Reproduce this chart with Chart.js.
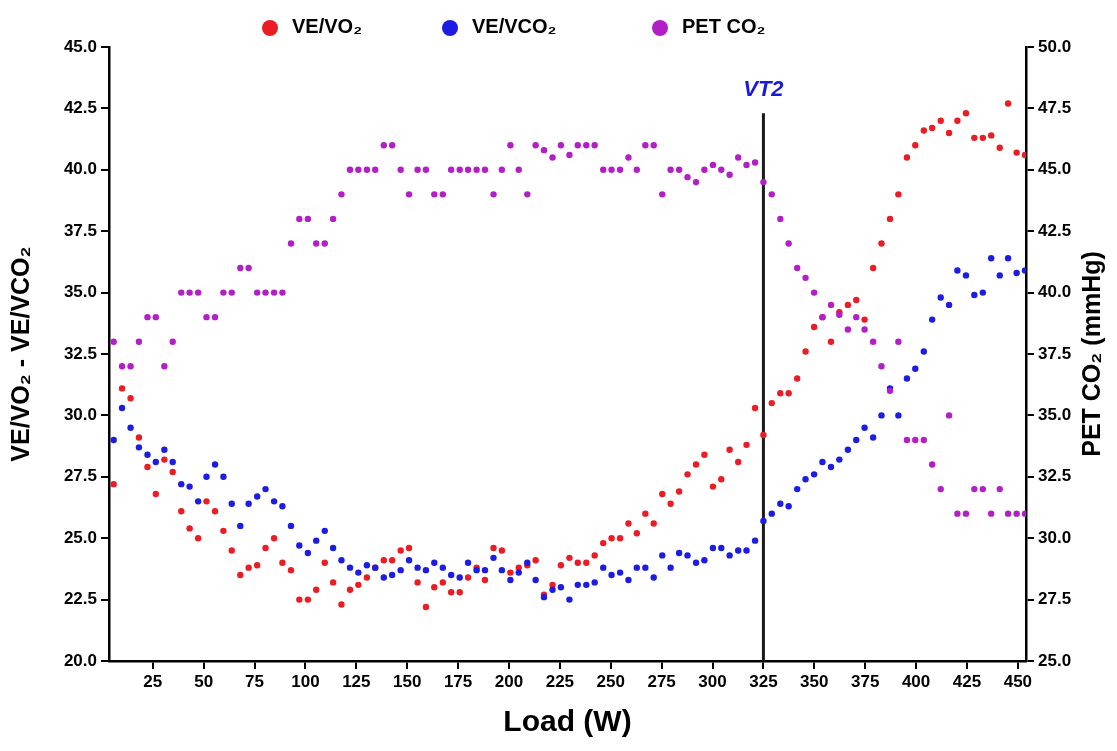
<!DOCTYPE html>
<html>
<head>
<meta charset="utf-8">
<script src="https://cdn.jsdelivr.net/npm/chart.js@4.4.1/dist/chart.umd.min.js"></script>
<style>
  html, body { margin: 0; padding: 0; background: #fff; }
  #wrap { width: 1117px; height: 751px; }
</style>
</head>
<body>
<div id="wrap"><canvas id="chart" width="1117" height="751"></canvas></div>
<script>
// ═══════════════════════════════════════════════
//  DATA
// ═══════════════════════════════════════════════
const load = [
  5.8, 9.9, 14.1, 18.2, 22.4, 26.5, 30.7, 34.8, 39.0, 43.1,
  47.3, 51.4, 55.6, 59.7, 63.8, 68.0, 72.1, 76.3, 80.4, 84.6,
  88.7, 92.9, 97.0, 101.2, 105.3, 109.5, 113.6, 117.7, 121.9, 126.0,
  130.2, 134.3, 138.5, 142.6, 146.8, 150.9, 155.1, 159.2, 163.3, 167.5,
  171.6, 175.8, 179.9, 184.1, 188.2, 192.4, 196.5, 200.7, 204.8, 209.0,
  213.1, 217.2, 221.4, 225.5, 229.7, 233.8, 238.0, 242.1, 246.3, 250.4,
  254.6, 258.7, 262.8, 267.0, 271.1, 275.3, 279.4, 283.6, 287.7, 291.9,
  296.0, 300.2, 304.3, 308.4, 312.6, 316.7, 320.9, 325.0, 329.1, 333.3,
  337.4, 341.6, 345.7, 349.9, 354.0, 358.2, 362.3, 366.5, 370.6, 374.7,
  378.9, 383.0, 387.2, 391.3, 395.5, 399.6, 403.8, 407.9, 412.1, 416.2,
  420.3, 424.5, 428.6, 432.8, 436.9, 441.1, 445.2, 449.4, 453.5
];

const veVo2 = [
  27.2, 31.1, 30.7, 29.1, 27.9, 26.8, 28.2, 27.7, 26.1, 25.4,
  25.0, 26.5, 26.1, 25.3, 24.5, 23.5, 23.8, 23.9, 24.6, 25.0,
  24.0, 23.7, 22.5, 22.5, 22.9, 24.0, 23.2, 22.3, 22.9, 23.1,
  23.4, 23.8, 24.1, 24.1, 24.5, 24.6, 23.2, 22.2, 23.0, 23.2,
  22.8, 22.8, 23.4, 23.8, 23.3, 24.6, 24.5, 23.6, 23.8, 23.9,
  24.1, 22.7, 23.1, 23.9, 24.2, 24.0, 24.0, 24.3, 24.8, 25.0,
  25.0, 25.6, 25.2, 26.0, 25.6, 26.8, 26.4, 26.9, 27.6, 28.0,
  28.4, 27.1, 27.4, 28.6, 28.1, 28.8, 30.3, 29.2, 30.5, 30.9,
  30.9, 31.5, 32.6, 33.6, 34.0, 33.0, 34.2, 34.5, 34.7, 33.9,
  36.0, 37.0, 38.0, 39.0, 40.5, 41.0, 41.6, 41.7, 42.0, 41.5,
  42.0, 42.3, 41.3, 41.3, 41.4, 40.9, 42.7, 40.7, 40.6
];

const veVco2 = [
  29.0, 30.3, 29.5, 28.7, 28.4, 28.1, 28.6, 28.1, 27.2, 27.1,
  26.5, 27.5, 28.0, 27.5, 26.4, 25.5, 26.4, 26.7, 27.0, 26.5,
  26.3, 25.5, 24.7, 24.4, 24.9, 25.3, 24.6, 24.1, 23.8, 23.6,
  23.9, 23.8, 23.4, 23.5, 23.7, 24.1, 23.8, 23.7, 24.0, 23.8,
  23.5, 23.4, 24.0, 23.7, 23.7, 24.2, 23.7, 23.3, 23.6, 24.0,
  23.3, 22.6, 22.9, 23.0, 22.5, 23.1, 23.1, 23.2, 23.8, 23.5,
  23.6, 23.3, 23.8, 23.8, 23.4, 24.3, 23.8, 24.4, 24.3, 24.0,
  24.1, 24.6, 24.6, 24.3, 24.5, 24.5, 24.9, 25.7, 26.0, 26.4,
  26.3, 27.0, 27.4, 27.6, 28.1, 27.9, 28.2, 28.6, 29.0, 29.5,
  29.1, 30.0, 31.1, 30.0, 31.5, 31.9, 32.6, 33.9, 34.8, 34.5,
  35.9, 35.7, 34.9, 35.0, 36.4, 35.7, 36.4, 35.8, 35.9
];

const petCo2 = [
  38, 37, 37, 38, 39, 39, 37, 38, 40, 40,
  40, 39, 39, 40, 40, 41, 41, 40, 40, 40,
  40, 42, 43, 43, 42, 42, 43, 44, 45, 45,
  45, 45, 46, 46, 45, 44, 45, 45, 44, 44,
  45, 45, 45, 45, 45, 44, 45, 46, 45, 44,
  46, 45.8, 45.5, 46, 45.6, 46, 46, 46, 45, 45,
  45, 45.5, 45, 46, 46, 44, 45, 45, 44.7, 44.5,
  45, 45.2, 45, 44.8, 45.5, 45.2, 45.3, 44.5, 44, 43,
  42, 41, 40.6, 40, 39, 39.5, 39.1, 38.5, 39, 38.5,
  38, 37, 36, 38, 34, 34, 34, 33, 32, 35,
  31, 31, 32, 32, 31, 32, 31, 31, 31
];

const xTicks = [25, 50, 75, 100, 125, 150, 175, 200, 225, 250, 275, 300, 325, 350, 375, 400, 425, 450];
const leftTicks = [20, 22.5, 25, 27.5, 30, 32.5, 35, 37.5, 40, 42.5, 45];
const rightTicks = [25, 27.5, 30, 32.5, 35, 37.5, 40, 42.5, 45, 47.5, 50];

const vt2Load = [325, 325];
const vt2Span = [20, 42.3];

// ═══════════════════════════════════════════════
//  STYLE
// ═══════════════════════════════════════════════
const FONT = "'Liberation Sans', Arial, Helvetica, sans-serif";
const RED = '#ea1c24';
const BLUE = '#1c1ce2';
const PURPLE = '#b21fc6';

Chart.defaults.font.family = FONT;
Chart.defaults.color = '#000';

function pts(ys) {
  return load.map((x, i) => ({ x: x, y: ys[i] }));
}

function fixedTicks(list) {
  return scale => { scale.ticks = list.map(v => ({ value: v })); };
}

const AXIS_GRID = { drawOnChartArea: false, drawTicks: true, tickLength: 8, color: '#000', lineWidth: 2 };
const AXIS_BORDER = { display: true, color: '#000', width: 2.5 };
const TICK_FONT = { size: 17, weight: 'bold' };

// legend, VT2 label and right-hand title
const overlay = {
  id: 'overlay',
  afterDraw(chart) {
    const ctx = chart.ctx;
    const area = chart.chartArea;
    const xs = chart.scales.x;
    ctx.save();

    const legendX = [270, 450, 660];
    chart.data.datasets.slice(0, 3).forEach((ds, i) => {
      ctx.beginPath();
      ctx.fillStyle = ds.backgroundColor;
      ctx.arc(legendX[i], 28, 8, 0, Math.PI * 2);
      ctx.fill();
      ctx.fillStyle = '#000';
      ctx.font = 'bold 20px ' + FONT;
      ctx.textAlign = 'left';
      ctx.textBaseline = 'middle';
      ctx.fillText(ds.label, legendX[i] + 22, 27);
    });

    ctx.fillStyle = '#1a1ad6';
    ctx.font = 'italic bold 22px ' + FONT;
    ctx.textAlign = 'center';
    ctx.textBaseline = 'middle';
    ctx.fillText('VT2', xs.getPixelForValue(vt2Load[0]), 90);

    ctx.translate(1093, (area.top + area.bottom) / 2);
    ctx.rotate(-Math.PI / 2);
    ctx.fillStyle = '#000';
    ctx.font = 'bold 25px ' + FONT;
    ctx.fillText('PET CO\u2082 (mmHg)', 0, 0);
    ctx.restore();
  }
};

new Chart(document.getElementById('chart'), {
  type: 'scatter',
  data: {
    datasets: [
      { label: 'VE/VO\u2082', data: pts(veVo2), backgroundColor: RED, borderColor: RED, yAxisID: 'y', order: 3 },
      { label: 'VE/VCO\u2082', data: pts(veVco2), backgroundColor: BLUE, borderColor: BLUE, yAxisID: 'y', order: 2 },
      { label: 'PET CO\u2082', data: pts(petCo2), backgroundColor: PURPLE, borderColor: PURPLE, yAxisID: 'y2', order: 1 },
      {
        type: 'line', label: 'VT2',
        data: vt2Load.map((x, i) => ({ x: x, y: vt2Span[i] })),
        borderColor: '#1a1a1a', borderWidth: 3, pointRadius: 0, yAxisID: 'y', order: 4
      }
    ]
  },
  options: {
    responsive: false,
    animation: false,
    layout: { padding: { top: 47, left: 0, right: 0, bottom: 0 } },
    elements: { point: { radius: 3.2, hoverRadius: 3.2, borderWidth: 0 } },
    plugins: { legend: { display: false }, tooltip: { enabled: false } },
    scales: {
      x: {
        type: 'linear', min: 3.5, max: 454,
        afterBuildTicks: fixedTicks(xTicks),
        afterFit: s => { s.height = 90; },
        ticks: { font: TICK_FONT, padding: 3, autoSkip: false, maxRotation: 0, callback: v => v },
        grid: AXIS_GRID, border: AXIS_BORDER,
        title: { display: true, text: 'Load (W)', font: { size: 30, weight: 'bold' }, padding: { top: 0, bottom: 10 } }
      },
      y: {
        type: 'linear', position: 'left', min: 20, max: 45,
        afterBuildTicks: fixedTicks(leftTicks),
        afterFit: s => { s.width = 109; },
        ticks: { font: TICK_FONT, padding: 4, autoSkip: false, callback: v => v.toFixed(1) },
        grid: AXIS_GRID, border: AXIS_BORDER,
        title: { display: true, text: 'VE/VO\u2082 - VE/VCO\u2082', font: { size: 25, weight: 'bold' }, padding: { top: 7, bottom: 0 } }
      },
      y2: {
        type: 'linear', position: 'right', min: 25, max: 50,
        afterBuildTicks: fixedTicks(rightTicks),
        afterFit: s => { s.width = 91; },
        ticks: { font: TICK_FONT, padding: 4, autoSkip: false, callback: v => v.toFixed(1) },
        grid: AXIS_GRID, border: AXIS_BORDER
      }
    }
  },
  plugins: [overlay]
});
</script>
</body>
</html>
